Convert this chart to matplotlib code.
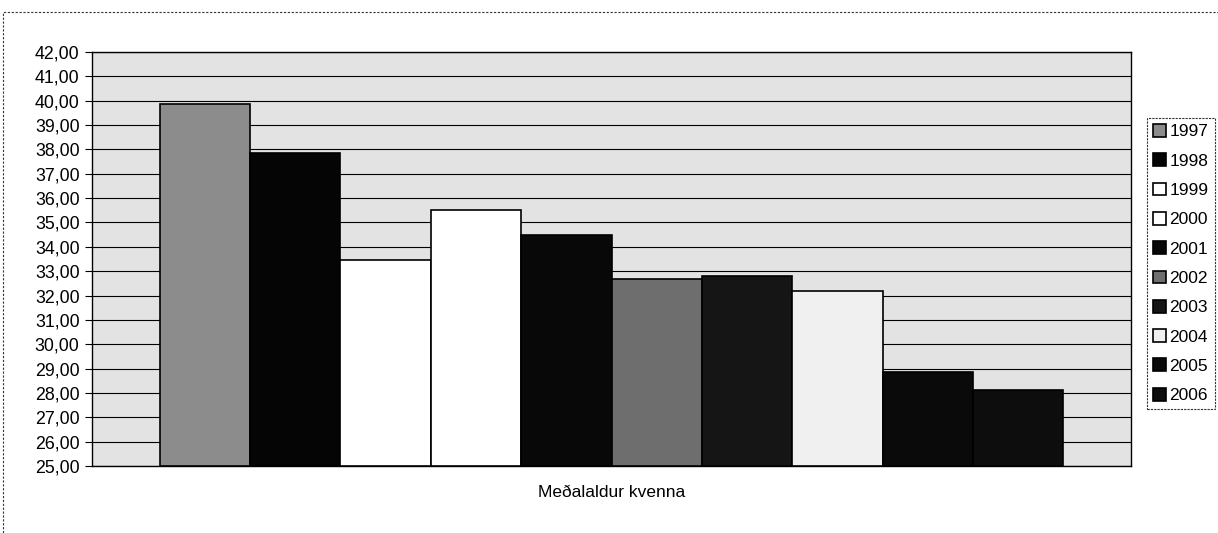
import matplotlib.pyplot as plt
import numpy as np
from matplotlib.patches import Rectangle
from matplotlib.ticker import FuncFormatter

# Meðalaldur kvenna eftir árum
years = ['1997', '1998', '1999', '2000', '2001',
         '2002', '2003', '2004', '2005', '2006']
values = [39.85, 37.85, 33.46, 35.51, 34.50,
          32.67, 32.81, 32.17, 28.87, 28.11]
category = 'Meðalaldur kvenna'

colors = ['#8c8c8c', '#050505', '#ffffff', '#ffffff', '#080808',
          '#6e6e6e', '#151515', '#f0f0f0', '#0a0a0a', '#0d0d0d']

plt.rcParams['font.family'] = ['Liberation Sans', 'DejaVu Sans']

fig = plt.figure(figsize=(12.18, 5.33), dpi=100)
ax = fig.add_axes([92 / 1218, 1 - 466 / 533, (1131 - 92) / 1218, (466 - 52) / 533])

n = len(years)
width = 1 / (n + 1.5)
x0 = -0.5 + 0.75 * width
for i, (yr, val) in enumerate(zip(years, values)):
    ax.bar(x0 + i * width, val - 25, width, bottom=25, align='edge',
           color=colors[i], edgecolor='black', linewidth=1.2,
           label=yr, zorder=3)

ax.set_xlim(-0.5, 0.5)
ax.set_ylim(25, 42)
ax.set_yticks(np.arange(25, 43, 1))
ax.yaxis.set_major_formatter(FuncFormatter(lambda v, p: f'{v:.2f}'.replace('.', ',')))
ax.tick_params(axis='y', labelsize=12.8, length=5, width=0.8,
               direction='out', pad=4)
ax.set_xticks([])
ax.set_xlabel(category, fontsize=12.5, labelpad=14)

ax.set_facecolor('#e3e3e3')
ax.grid(True, axis='y', color='black', linewidth=0.8, zorder=1)
ax.set_axisbelow(True)
for sp in ax.spines.values():
    sp.set_color('black')
    sp.set_linewidth(1.0)

leg = fig.legend(loc='upper left', bbox_to_anchor=(1147 / 1218, 1 - 118 / 533),
                 fontsize=12.5, frameon=True, fancybox=False,
                 handlelength=0.75, handleheight=0.75, handletextpad=0.2,
                 labelspacing=0.8, borderpad=0.35, borderaxespad=0)
leg.get_frame().set_edgecolor('black')
leg.get_frame().set_linestyle((0, (2, 1)))
leg.get_frame().set_linewidth(0.8)

# ytri rammi (strikalína)
fig.patches.append(Rectangle((3 / 1218, -0.05), 1.2, 1 - 12 / 533 + 0.05,
                             transform=fig.transFigure, fill=False,
                             edgecolor='#333333', linewidth=0.8,
                             linestyle=(0, (2, 1.5))))

plt.savefig('out.png', dpi=100)
